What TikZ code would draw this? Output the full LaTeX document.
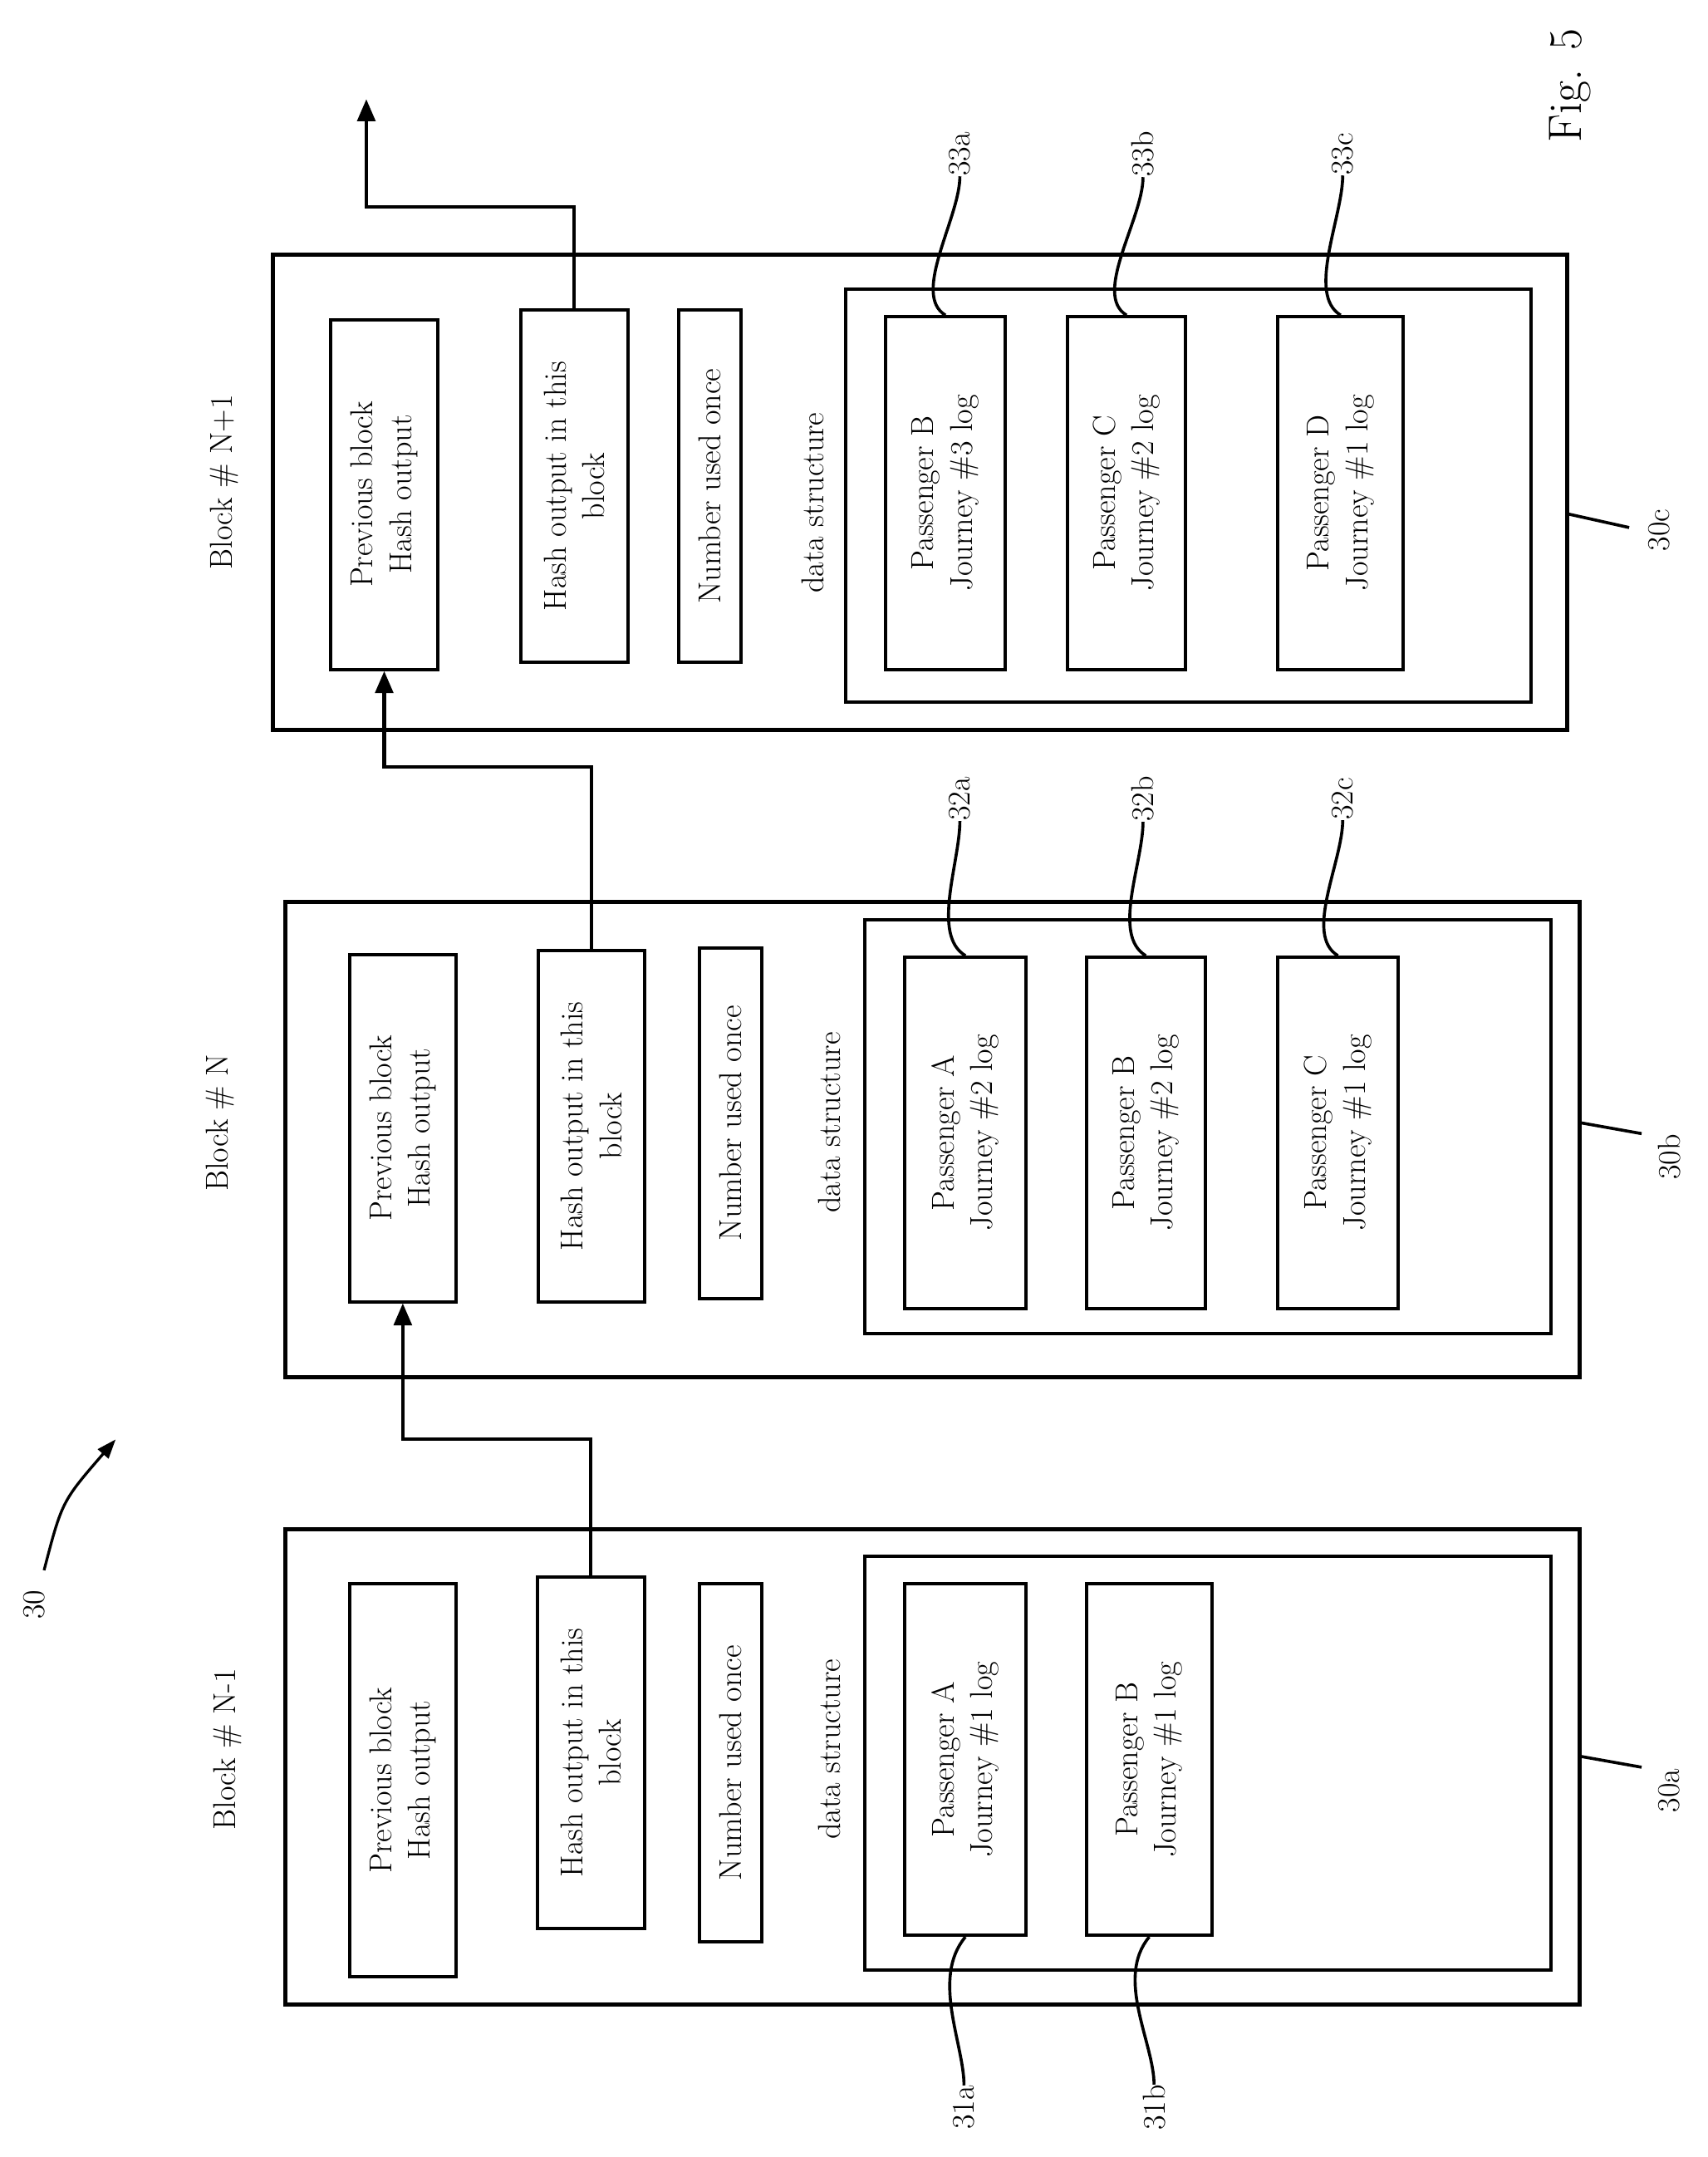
\documentclass[tikz,border=0pt]{standalone}
\usetikzlibrary{arrows.meta}
\begin{document}
\begin{tikzpicture}[x=1pt,y=-1pt,
  every node/.style={font=\fontsize{23}{28}\selectfont},
  outer/.style={draw,line width=3pt},
  inbox/.style={draw,line width=2.4pt},
  lbl/.style={rotate=90,align=center,inner sep=0},
  arr/.style={line width=2.5pt,-{Triangle[length=16pt,width=13pt]}},
  sq/.style={line width=2.2pt}]
\useasboundingbox (0,0) rectangle (1240,1566);
\newcommand{\bx}[7][inbox]{\node[#1,rotate=90,minimum width={(#6-#4)*1pt},minimum height={(#5-#3)*1pt},inner sep=0,align=center] (#2) at ({(#3+#5)/2},{(#4+#6)/2}) {#7};}
% Block N-1
\bx[outer]{bA}{207}{1110}{1147}{1455}{}
\node[lbl] (tA) at (165,1270) {Block \# N-1};
\bx{pA}{254}{1150}{331}{1435}{Previous block\\Hash output}
\bx{hA}{390}{1145}{468}{1400}{Hash output in this\\block}
\bx{nA}{508}{1150}{553}{1410}{Number used once}
\node[lbl] (dA) at (602,1270) {data structure};
\bx{sA}{628}{1130}{1126}{1430}{}
\bx{a1}{657}{1150}{745}{1405}{Passenger A\\Journey \#1 log}
\bx{a2}{789}{1150}{880}{1405}{Passenger B\\Journey \#1 log}
% Block N
\bx[outer]{bB}{207}{655}{1147}{1000}{}
\node[lbl] (tB) at (160,815) {Block \# N};
\bx{pB}{254}{693}{331}{945}{Previous block\\Hash output}
\bx{hB}{391}{690}{468}{945}{Hash output in this\\block}
\bx{nB}{508}{688}{553}{943}{Number used once}
\node[lbl] (dB) at (602,815) {data structure};
\bx{sB}{628}{668}{1126}{968}{}
\bx{b1}{657}{695}{745}{950}{Passenger A\\Journey \#2 log}
\bx{b2}{789}{695}{875}{950}{Passenger B\\Journey \#2 log}
\bx{b3}{928}{695}{1015}{950}{Passenger C\\Journey \#1 log}
% Block N+1
\bx[outer]{bC}{198}{185}{1138}{530}{}
\node[lbl] (tC) at (163,350) {Block \# N+1};
\bx{pC}{240}{232}{318}{486}{Previous block\\Hash output}
\bx{hC}{378}{225}{456}{481}{Hash output in this\\block}
\bx{nC}{493}{225}{538}{481}{Number used once}
\node[lbl] (dC) at (590,365) {data structure};
\bx{sC}{614}{210}{1112}{510}{}
\bx{c1}{643}{230}{730}{486}{Passenger B\\Journey \#3 log}
\bx{c2}{775}{230}{861}{486}{Passenger C\\Journey \#2 log}
\bx{c3}{928}{230}{1019}{486}{Passenger D\\Journey \#1 log}
% chain arrows
\coordinate (top) at (266,72);
\draw[arr] (hA.east) -- (hA.east |- 0,1045) -| (pB.west);
\draw[arr] (hB.east) -- (hB.east |- 0,557) -| (pC.west);
\draw[arr] (hC.east) -- (hC.east |- 0,150) -| (top);
% reference labels
\node[lbl] (l31a) at (700,1530) {31a};
\node[lbl] (l31b) at (838,1530) {31b};
\draw[sq] (a1.west) .. controls +(-25,30) and +(0,-30) .. (l31a.east);
\draw[sq] (a2.west) .. controls +(-25,30) and +(0,-30) .. (l31b.east);
\node[lbl] (l32a) at (697,580) {32a};
\node[lbl] (l32b) at (830,580) {32b};
\node[lbl] (l32c) at (975,580) {32c};
\draw[sq] (b1.east) .. controls +(-25,-15) and +(0,30) .. (l32a.west);
\draw[sq] (b2.east) .. controls +(-25,-15) and +(0,30) .. (l32b.west);
\draw[sq] (b3.east) .. controls +(-25,-15) and +(0,30) .. (l32c.west);
\node[lbl] (l33a) at (697,112) {33a};
\node[lbl] (l33b) at (830,112) {33b};
\node[lbl] (l33c) at (975,112) {33c};
\draw[sq] (c1.east) .. controls +(-25,-15) and +(0,30) .. (l33a.west);
\draw[sq] (c2.east) .. controls +(-25,-15) and +(0,30) .. (l33b.west);
\draw[sq] (c3.east) .. controls +(-25,-15) and +(0,30) .. (l33c.west);
\node[lbl] (l30a) at (1212,1300) {30a};
\node[lbl] (l30b) at (1212,840) {30b};
\node[lbl] (l30c) at (1205,385) {30c};
\coordinate (e30a) at (1147,1275);
\coordinate (e30b) at (1147,815);
\coordinate (e30c) at (1138,373);
\draw[sq] (e30a) -- (1192,1283);
\draw[sq] (e30b) -- (1192,823);
\draw[sq] (e30c) -- (1183,383);
\node[lbl] (l30) at (25,1165) {30};
\coordinate (h30) at (84,1045);
\draw[line width=2pt,-{Triangle[length=14pt,width=10pt]}] (32,1140) .. controls (45,1090) .. (h30);
\node[lbl,font=\fontsize{34}{40}\selectfont] (fig) at (1140,62) {Fig. 5};
\end{tikzpicture}
\end{document}
